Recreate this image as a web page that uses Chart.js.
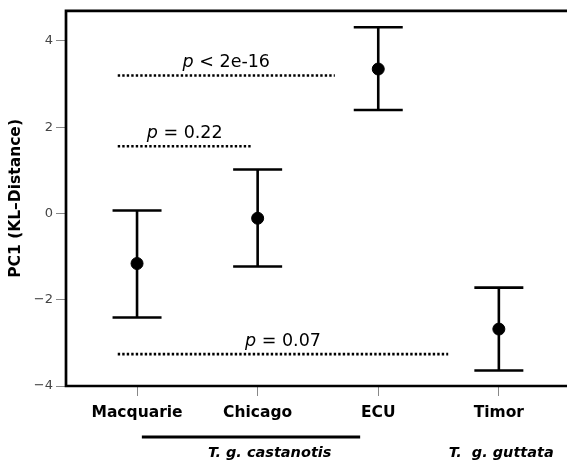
<!DOCTYPE html>
<html>
<head>
<meta charset="utf-8">
<script src="https://cdn.jsdelivr.net/npm/chart.js@4"></script>
<style>
  html, body { margin: 0; padding: 0; background: #fff; overflow: hidden; }
  #wrap { width: 567px; height: 465px; position: relative; }
  #pcChart { display: block; }
</style>
</head>
<body>
<div id="wrap"><canvas id="pcChart"></canvas></div>
<script>
/* ===== data ===== */

const sites = ["Macquarie", "Chicago", "ECU", "Timor"]
const siteX = [1, 2, 3, 4]
const means = [-1.16, -0.11, 3.35, -2.68]
const upper = [0.07, 1.02, 4.32, -1.72]
const lower = [-2.41, -1.23, 2.40, -3.64]

const yTicks = [-4, -2, 0, 2, 4]

// pairwise comparisons (dotted lines)
const pText = ["< 2e-16", "= 0.22", "= 0.07"]
const pLevel = [3.20, 1.56, -3.26]
const pStart = [0.84, 0.84, 0.84]
const pEnd = [2.64, 1.95, 3.58]

// subspecies groups under the axis
const groupNames = ["T. g. castanotis", "T.  g. guttata"]
const groupCenter = [2.10, 4.02]
const groupLine = [1.04, 2.85]

const FONT = "'DejaVu Sans', sans-serif"


/* ===== drawing helpers ===== */

const extrasPlugin = {
  id: "extras",

  beforeDatasetsDraw(chart) {
    const { ctx, chartArea, scales } = chart
    const x = scales.x
    const y = scales.y

    ctx.save()

    // frame (no right side, it runs off the picture)
    ctx.strokeStyle = "#000"
    ctx.lineWidth = 2.7
    ctx.beginPath()
    ctx.moveTo(chart.width + 5, chartArea.top)
    ctx.lineTo(chartArea.left, chartArea.top)
    ctx.lineTo(chartArea.left, chartArea.bottom)
    ctx.lineTo(chart.width + 5, chartArea.bottom)
    ctx.stroke()

    // error bars
    ctx.lineWidth = 2.6
    const capHalf = 24.5
    sites.forEach((s, i) => {
      const px = x.getPixelForValue(siteX[i])
      const top = y.getPixelForValue(upper[i])
      const bot = y.getPixelForValue(lower[i])
      ctx.beginPath()
      ctx.moveTo(px, top)
      ctx.lineTo(px, bot)
      ctx.moveTo(px - capHalf, top)
      ctx.lineTo(px + capHalf, top)
      ctx.moveTo(px - capHalf, bot)
      ctx.lineTo(px + capHalf, bot)
      ctx.stroke()
    })

    ctx.restore()
  },

  afterDraw(chart) {
    const { ctx, scales } = chart
    const x = scales.x
    const y = scales.y

    ctx.save()
    ctx.fillStyle = "#000"
    ctx.textBaseline = "alphabetic"

    // p values above the dotted lines
    pText.forEach((t, i) => {
      const cx = x.getPixelForValue((pStart[i] + pEnd[i]) / 2)
      const base = y.getPixelForValue(pLevel[i]) - 8.5
      ctx.font = "italic 17.5px " + FONT
      const wp = ctx.measureText("p").width
      ctx.font = "17.5px " + FONT
      const rest = " " + t
      const wr = ctx.measureText(rest).width
      const x0 = cx - (wp + wr) / 2
      ctx.font = "italic 17.5px " + FONT
      ctx.textAlign = "left"
      ctx.fillText("p", x0, base)
      ctx.font = "17.5px " + FONT
      ctx.fillText(rest, x0 + wp, base)
    })

    // group bar and names
    ctx.strokeStyle = "#000"
    ctx.lineWidth = 3
    ctx.beginPath()
    ctx.moveTo(x.getPixelForValue(groupLine[0]), 437)
    ctx.lineTo(x.getPixelForValue(groupLine[1]), 437)
    ctx.stroke()

    ctx.font = "italic bold 14.5px " + FONT
    ctx.textAlign = "center"
    ctx.textBaseline = "middle"
    groupNames.forEach((g, i) => {
      ctx.fillText(g, x.getPixelForValue(groupCenter[i]), 453)
    })

    ctx.restore()
  }
}


/* ===== chart ===== */

const pLineSets = pText.map((t, i) => ({
  type: "line",
  data: [
    { x: pStart[i], y: pLevel[i] },
    { x: pEnd[i], y: pLevel[i] }
  ],
  borderColor: "#000",
  borderWidth: 2.6,
  borderDash: [2.4, 2.1],
  pointRadius: 0,
  fill: false
}))

new Chart(document.getElementById("pcChart"), {
  type: "scatter",
  data: {
    datasets: [
      {
        data: siteX.map((v, i) => ({ x: v, y: means[i] })),
        backgroundColor: "#000",
        borderColor: "#000",
        pointRadius: 6,
        pointHoverRadius: 6
      },
      ...pLineSets
    ]
  },
  options: {
    responsive: true,
    maintainAspectRatio: false,
    animation: false,
    events: [],
    layout: {
      padding: { top: 9, right: 0, left: 0, bottom: 0 }
    },
    plugins: {
      legend: { display: false },
      tooltip: { enabled: false }
    },
    scales: {
      x: {
        type: "linear",
        min: 0.411,
        max: 4.507,
        afterBuildTicks: (s) => { s.ticks = siteX.map(v => ({ value: v })) },
        afterFit: (s) => { s.height = 79 },
        grid: {
          drawOnChartArea: false,
          drawTicks: true,
          tickLength: 10,
          color: "#888"
        },
        border: { display: false },
        ticks: {
          padding: 8,
          color: "#000",
          font: { family: FONT, size: 15.5, weight: "bold" },
          callback: (v) => sites[siteX.indexOf(v)] || ""
        }
      },
      y: {
        min: -4,
        max: 4.7,
        afterBuildTicks: (s) => { s.ticks = yTicks.map(v => ({ value: v })) },
        afterFit: (s) => { s.width = 66 },
        grid: {
          drawOnChartArea: false,
          drawTicks: true,
          tickLength: 10,
          color: "#888"
        },
        border: { display: false },
        ticks: {
          padding: 3,
          color: "#444",
          font: { family: FONT, size: 13 },
          callback: (v) => String(v).replace("-", "\u2212")
        },
        title: {
          display: true,
          text: "PC1 (KL\u2013Distance)",
          color: "#000",
          font: { family: FONT, size: 15.5, weight: "bold" },
          padding: { top: 7, bottom: 0 }
        }
      }
    }
  },
  plugins: [extrasPlugin]
})
</script>
</body>
</html>
